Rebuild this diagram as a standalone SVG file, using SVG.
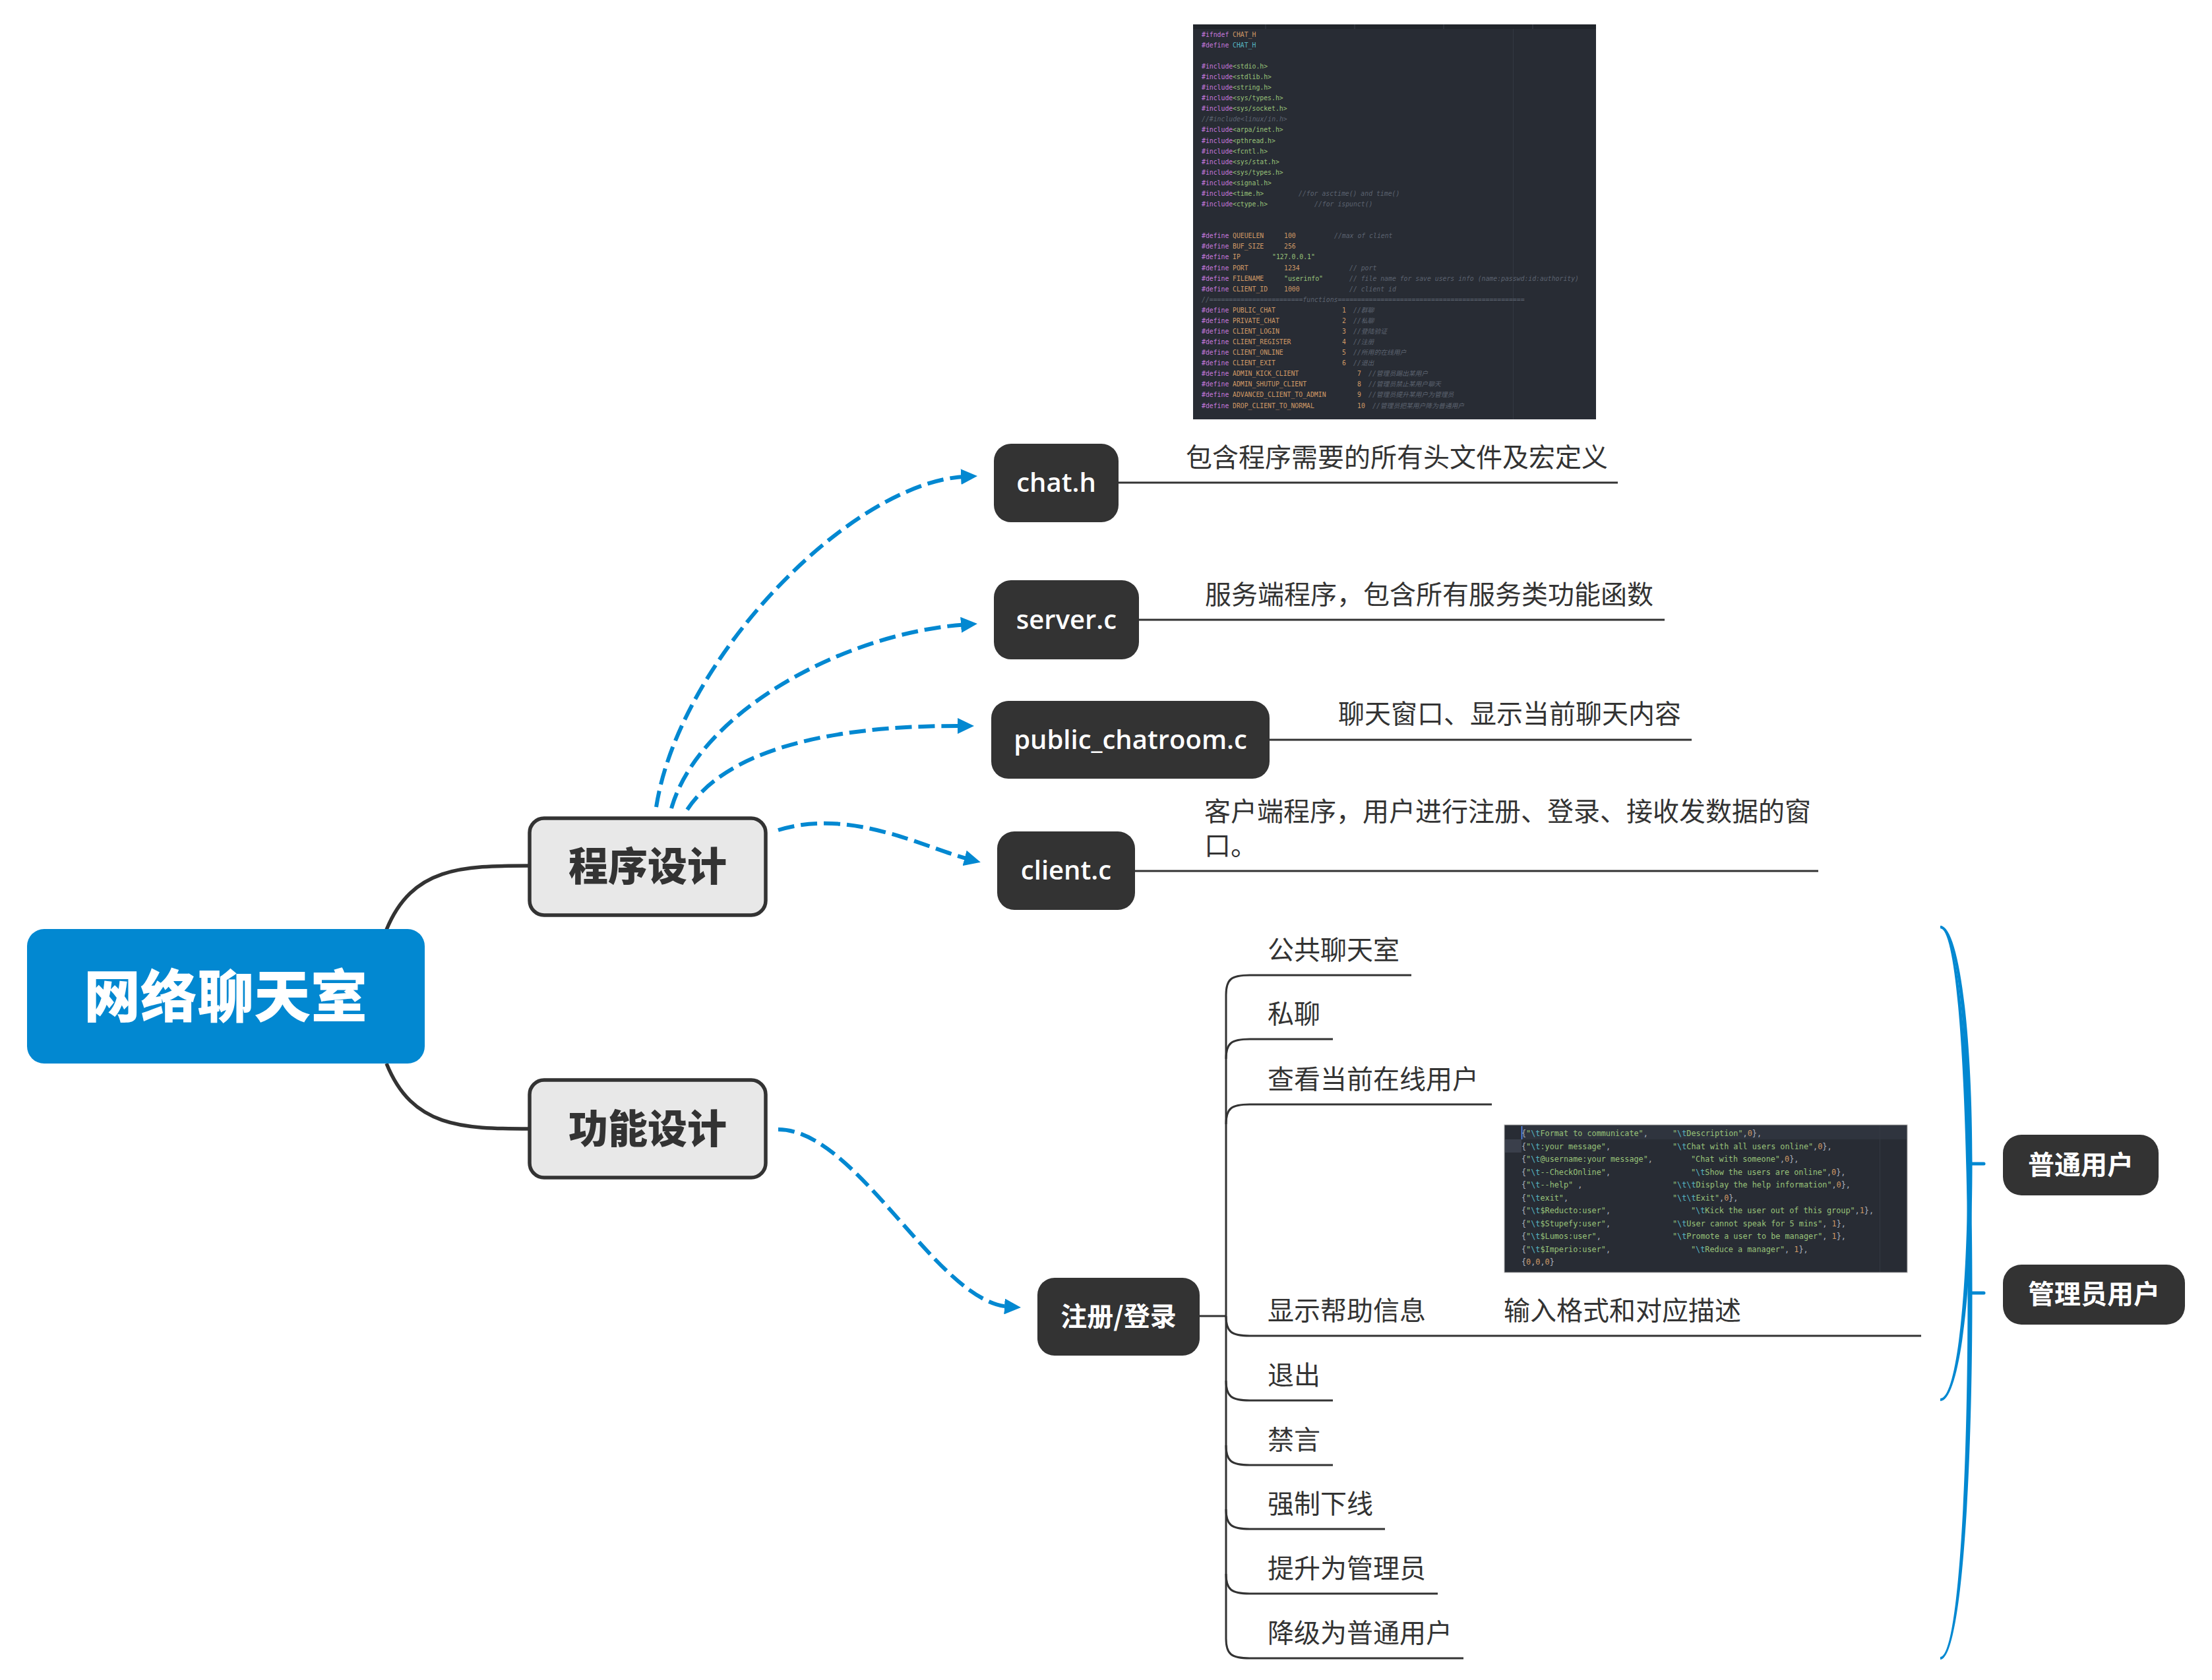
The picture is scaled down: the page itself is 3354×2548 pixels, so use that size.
<svg xmlns="http://www.w3.org/2000/svg" width="3354" height="2548" viewBox="0 0 3354 2548">
<defs>
<style>
.lbl{font-family:"Noto Sans CJK SC","Noto Sans",sans-serif;font-size:40px;fill:#333}
.ft{font-family:"Open Sans","Noto Sans CJK SC",sans-serif;font-size:40px;font-weight:600;fill:#fff;text-anchor:middle}
.bw{font-family:"Noto Sans CJK SC",sans-serif;font-size:40px;font-weight:700;fill:#fff;text-anchor:middle}
.bk{font-family:"Noto Sans CJK SC",sans-serif;font-size:60px;font-weight:900;fill:#333;text-anchor:middle}
.dash{fill:none;stroke:#0288d1;stroke-width:6;stroke-dasharray:25 10;marker-end:url(#arr)}
.ln{fill:none;stroke:#333;stroke-width:3}
.br{fill:none;stroke:#333;stroke-width:5.5}
.blue{fill:#0288d1}
.fn{fill:#333}
.c1{font-family:"DejaVu Sans Mono","Noto Sans CJK SC",monospace;font-size:9.8px}
.c2{font-family:"DejaVu Sans Mono","Noto Sans CJK SC",monospace;font-size:11.8px}
.P{fill:#c678dd}.O{fill:#d19a66}.C{fill:#56b6c2}.G{fill:#98c379}.M{fill:#5c6370;font-style:italic}.W{fill:#abb2bf}.N{fill:#d19a66}
</style>
<marker id="arr" markerUnits="userSpaceOnUse" markerWidth="26" markerHeight="24" refX="7" refY="12" orient="auto">
<path d="M0,0 L25,12 L0,24 Z" fill="#0288d1"/>
</marker>
</defs>
<rect width="3354" height="2548" fill="#fff"/>

<g id="connectors">
<path class="br" d="M586,1410 C625,1315 700,1313 803,1313"/>
<path class="br" d="M586,1613 C625,1710 700,1712 803,1712"/>
<path class="dash" d="M995,1224 C1030,1000 1290,731 1464,722.8"/>
<path class="dash" d="M1018,1226 C1060,1080 1280,960 1464,947.2"/>
<path class="dash" d="M1042,1228 C1100,1140 1250,1100 1459,1101"/>
<path class="dash" d="M1180,1259 C1290,1225 1400,1285 1469.4,1303.2"/>
<path class="dash" d="M1180,1713 C1300,1713 1420,1975 1530,1981.9"/>
<path class="ln" d="M1696,732 L2453,732"/>
<path class="ln" d="M1727,940 L2524,940"/>
<path class="ln" d="M1925,1122 L2565,1122"/>
<path class="ln" d="M1721,1321 L2757,1321"/>
<path class="ln" d="M1819,1996 L1859,1996"/>
<path class="ln" d="M1859,1509 L1859,2485"/>
<path class="ln" d="M1859,1509 C1859,1485 1867,1479 1895,1479 L2140,1479"/>
<path class="ln" d="M1859,1606 C1859,1582 1867,1576 1895,1576 L2021,1576"/>
<path class="ln" d="M1859,1705 C1859,1681 1867,1675 1895,1675 L2262,1675"/>
<path class="ln" d="M1859,1996 C1859,2020 1867,2026 1895,2026 L2913,2026"/>
<path class="ln" d="M1859,2094 C1859,2118 1867,2124 1895,2124 L2021,2124"/>
<path class="ln" d="M1859,2192 C1859,2216 1867,2222 1895,2222 L2021,2222"/>
<path class="ln" d="M1859,2289 C1859,2313 1867,2319 1895,2319 L2100,2319"/>
<path class="ln" d="M1859,2387 C1859,2411 1867,2417 1895,2417 L2180,2417"/>
<path class="ln" d="M1859,2485 C1859,2509 1867,2515 1895,2515 L2219,2515"/>
<path class="blue" d="M2942,1404 C2970,1404 2990.5,1560 2990.5,1765 C2990.5,1970 2970,2125 2942,2125 L2942,2121 C2966,2121 2983.5,1970 2983.5,1765 C2983.5,1560 2966,1408 2942,1408 Z"/>
<path class="blue" d="M2942,1404 C2972,1404 2990.5,1650 2990.5,1961 C2990.5,2270 2972,2517 2942,2517 L2942,2513 C2968,2513 2983.5,2270 2983.5,1961 C2983.5,1650 2968,1408 2942,1408 Z"/>
<path d="M2987,1765 L3008,1765 M2987,1961 L3008,1961" stroke="#0288d1" stroke-width="5" stroke-linecap="round"/>
</g>

<g id="root">
<rect x="41" y="1409" width="603" height="204" rx="26" fill="#0288d1"/>
<text x="342" y="1543" style="font-family:'Noto Sans CJK SC',sans-serif;font-size:86px;font-weight:900;fill:#fff;text-anchor:middle">网络聊天室</text>
</g>

<g id="node-program">
<rect x="803" y="1241" width="358" height="147" rx="22" fill="#e8e8e8" stroke="#333" stroke-width="5.5"/>
<text class="bk" x="982" y="1336">程序设计</text>
</g>

<g id="node-function">
<rect x="803" y="1638" width="358" height="148" rx="22" fill="#e8e8e8" stroke="#333" stroke-width="5.5"/>
<text class="bk" x="982" y="1734">功能设计</text>
</g>

<g id="node-chat-h">
<rect class="fn" x="1507" y="673" width="189" height="119" rx="26"/>
<text class="ft" x="1601.5" y="746">chat.h</text>
</g>
<g id="label-chat-h"><text class="lbl" x="1798" y="708">包含程序需要的所有头文件及宏定义</text></g>

<g id="node-server-c">
<rect class="fn" x="1507" y="880" width="220" height="120" rx="26"/>
<text class="ft" x="1617" y="954">server.c</text>
</g>
<g id="label-server-c"><text class="lbl" x="1827" y="916">服务端程序，包含所有服务类功能函数</text></g>

<g id="node-public">
<rect class="fn" x="1503" y="1063" width="422" height="118" rx="26"/>
<text class="ft" x="1714" y="1136">public_chatroom.c</text>
</g>
<g id="label-public"><text class="lbl" x="2029" y="1097">聊天窗口、显示当前聊天内容</text></g>

<g id="node-client-c">
<rect class="fn" x="1512" y="1261" width="209" height="119" rx="26"/>
<text class="ft" x="1616.5" y="1334">client.c</text>
</g>
<g id="label-client-c">
<text class="lbl" x="1826" y="1245">客户端程序，用户进行注册、登录、接收发数据的窗</text>
<text class="lbl" x="1826" y="1297">口。</text>
</g>

<g id="code-chat-h">
<rect x="1809" y="37" width="611" height="599" fill="#282c34"/>
<rect x="1809" y="37" width="611" height="7" fill="#21252b"/>
<path d="M1919,37 V44 M2054,37 V44 M2189,37 V44 M2324,37 V44" stroke="#3a3f4b" stroke-width="1"/>
<path d="M2294.5,44 V636" stroke="#333842" stroke-width="1"/>
<g class="c1">
<text y="55.7"><tspan class="P" x="1822">#ifndef</tspan><tspan class="O" x="1869">CHAT_H</tspan></text>
<text y="71.8"><tspan class="P" x="1822">#define</tspan><tspan class="C" x="1869">CHAT_H</tspan></text>
<text y="104"><tspan class="P" x="1822">#include</tspan><tspan class="G" x="1869">&lt;stdio.h&gt;</tspan></text>
<text y="120"><tspan class="P" x="1822">#include</tspan><tspan class="G" x="1869">&lt;stdlib.h&gt;</tspan></text>
<text y="136.1"><tspan class="P" x="1822">#include</tspan><tspan class="G" x="1869">&lt;string.h&gt;</tspan></text>
<text y="152.2"><tspan class="P" x="1822">#include</tspan><tspan class="G" x="1869">&lt;sys/types.h&gt;</tspan></text>
<text y="168.3"><tspan class="P" x="1822">#include</tspan><tspan class="G" x="1869">&lt;sys/socket.h&gt;</tspan></text>
<text y="184.3"><tspan class="M" x="1822">//#include&lt;linux/in.h&gt;</tspan></text>
<text y="200.4"><tspan class="P" x="1822">#include</tspan><tspan class="G" x="1869">&lt;arpa/inet.h&gt;</tspan></text>
<text y="216.5"><tspan class="P" x="1822">#include</tspan><tspan class="G" x="1869">&lt;pthread.h&gt;</tspan></text>
<text y="232.6"><tspan class="P" x="1822">#include</tspan><tspan class="G" x="1869">&lt;fcntl.h&gt;</tspan></text>
<text y="248.7"><tspan class="P" x="1822">#include</tspan><tspan class="G" x="1869">&lt;sys/stat.h&gt;</tspan></text>
<text y="264.7"><tspan class="P" x="1822">#include</tspan><tspan class="G" x="1869">&lt;sys/types.h&gt;</tspan></text>
<text y="280.8"><tspan class="P" x="1822">#include</tspan><tspan class="G" x="1869">&lt;signal.h&gt;</tspan></text>
<text y="296.9"><tspan class="P" x="1822">#include</tspan><tspan class="G" x="1869">&lt;time.h&gt;</tspan><tspan class="M" x="1969">//for asctime() and time()</tspan></text>
<text y="313"><tspan class="P" x="1822">#include</tspan><tspan class="G" x="1869">&lt;ctype.h&gt;</tspan><tspan class="M" x="1993">//for ispunct()</tspan></text>
<text y="361.2"><tspan class="P" x="1822">#define</tspan><tspan class="O" x="1869">QUEUELEN</tspan><tspan class="N" x="1947">100</tspan><tspan class="M" x="2023">//max of  client</tspan></text>
<text y="377.3"><tspan class="P" x="1822">#define</tspan><tspan class="O" x="1869">BUF_SIZE</tspan><tspan class="N" x="1947">256</tspan></text>
<text y="393.4"><tspan class="P" x="1822">#define</tspan><tspan class="O" x="1869">IP</tspan><tspan class="G" x="1929">"127.0.0.1"</tspan></text>
<text y="409.5"><tspan class="P" x="1822">#define</tspan><tspan class="O" x="1869">PORT</tspan><tspan class="N" x="1947">1234</tspan><tspan class="M" x="2046">// port</tspan></text>
<text y="425.5"><tspan class="P" x="1822">#define</tspan><tspan class="O" x="1869">FILENAME</tspan><tspan class="G" x="1947">"userinfo"</tspan><tspan class="M" x="2046">// file name for save users info (name:passwd:id:authority)</tspan></text>
<text y="441.6"><tspan class="P" x="1822">#define</tspan><tspan class="O" x="1869">CLIENT_ID</tspan><tspan class="N" x="1947">1000</tspan><tspan class="M" x="2046">// client id</tspan></text>
<text y="457.7"><tspan class="M" x="1822">//========================functions================================================</tspan></text>
<text y="473.8"><tspan class="P" x="1822">#define</tspan><tspan class="O" x="1869">PUBLIC_CHAT</tspan><tspan class="N" x="2035">1</tspan><tspan class="M" x="2052">//群聊</tspan></text>
<text y="489.9"><tspan class="P" x="1822">#define</tspan><tspan class="O" x="1869">PRIVATE_CHAT</tspan><tspan class="N" x="2035">2</tspan><tspan class="M" x="2052">//私聊</tspan></text>
<text y="505.9"><tspan class="P" x="1822">#define</tspan><tspan class="O" x="1869">CLIENT_LOGIN</tspan><tspan class="N" x="2035">3</tspan><tspan class="M" x="2052">//登陆验证</tspan></text>
<text y="522"><tspan class="P" x="1822">#define</tspan><tspan class="O" x="1869">CLIENT_REGISTER</tspan><tspan class="N" x="2035">4</tspan><tspan class="M" x="2052">//注册</tspan></text>
<text y="538.1"><tspan class="P" x="1822">#define</tspan><tspan class="O" x="1869">CLIENT_ONLINE</tspan><tspan class="N" x="2035">5</tspan><tspan class="M" x="2052">//所用的在线用户</tspan></text>
<text y="554.2"><tspan class="P" x="1822">#define</tspan><tspan class="O" x="1869">CLIENT_EXIT</tspan><tspan class="N" x="2035">6</tspan><tspan class="M" x="2052">//退出</tspan></text>
<text y="570.3"><tspan class="P" x="1822">#define</tspan><tspan class="O" x="1869">ADMIN_KICK_CLIENT</tspan><tspan class="N" x="2058">7</tspan><tspan class="M" x="2075">//管理员踢出某用户</tspan></text>
<text y="586.3"><tspan class="P" x="1822">#define</tspan><tspan class="O" x="1869">ADMIN_SHUTUP_CLIENT</tspan><tspan class="N" x="2058">8</tspan><tspan class="M" x="2075">//管理员禁止某用户聊天</tspan></text>
<text y="602.4"><tspan class="P" x="1822">#define</tspan><tspan class="O" x="1869">ADVANCED_CLIENT_TO_ADMIN</tspan><tspan class="N" x="2058">9</tspan><tspan class="M" x="2075">//管理员提升某用户为管理员</tspan></text>
<text y="618.5"><tspan class="P" x="1822">#define</tspan><tspan class="O" x="1869">DROP_CLIENT_TO_NORMAL</tspan><tspan class="N" x="2058">10</tspan><tspan class="M" x="2081">//管理员把某用户降为普通用户</tspan></text>
</g>
</g>

<g id="node-register">
<rect class="fn" x="1573" y="1938" width="246" height="118" rx="26"/>
<text class="bw" x="1696" y="2011">注册/登录</text>
</g>

<g id="item-public"><text class="lbl" x="1922" y="1455">公共聊天室</text></g>
<g id="item-private"><text class="lbl" x="1922" y="1552">私聊</text></g>
<g id="item-online"><text class="lbl" x="1922" y="1651">查看当前在线用户</text></g>
<g id="item-help">
<text class="lbl" x="1922" y="2002">显示帮助信息</text>
</g>
<g id="item-help-desc">
<rect x="2281" y="1706" width="611" height="224" fill="#282c34" stroke="#b8b8b8" stroke-width="1"/>
<rect x="2307" y="1707" width="584" height="21" fill="#2f343e"/>
<rect x="2282" y="1728" width="25" height="20" fill="#3a3f4b"/>
<path d="M2307.5,1708 V1728" stroke="#528bff" stroke-width="1.5"/>
<path d="M2850.5,1707 V1929" stroke="#333842" stroke-width="1"/>
<g class="c2">
<text x="2307" y="1723"><tspan class="W">{</tspan><tspan class="G">"</tspan><tspan class="C">\t</tspan><tspan class="G">Format to communicate"</tspan><tspan class="W">,</tspan></text>
<text x="2536" y="1723"><tspan class="G">"</tspan><tspan class="C">\t</tspan><tspan class="G">Description"</tspan><tspan class="W">,</tspan><tspan class="N">0</tspan><tspan class="W">},</tspan></text>
<text x="2307" y="1742.5"><tspan class="W">{</tspan><tspan class="G">"</tspan><tspan class="C">\t</tspan><tspan class="G">:your message"</tspan><tspan class="W">,</tspan></text>
<text x="2536" y="1742.5"><tspan class="G">"</tspan><tspan class="C">\t</tspan><tspan class="G">Chat with all users online"</tspan><tspan class="W">,</tspan><tspan class="N">0</tspan><tspan class="W">},</tspan></text>
<text x="2307" y="1762"><tspan class="W">{</tspan><tspan class="G">"</tspan><tspan class="C">\t</tspan><tspan class="G">@username:your message"</tspan><tspan class="W">,</tspan></text>
<text x="2564" y="1762"><tspan class="G">"Chat with someone"</tspan><tspan class="W">,</tspan><tspan class="N">0</tspan><tspan class="W">},</tspan></text>
<text x="2307" y="1781.5"><tspan class="W">{</tspan><tspan class="G">"</tspan><tspan class="C">\t</tspan><tspan class="G">--CheckOnline"</tspan><tspan class="W">,</tspan></text>
<text x="2564" y="1781.5"><tspan class="G">"</tspan><tspan class="C">\t</tspan><tspan class="G">Show the users are online"</tspan><tspan class="W">,</tspan><tspan class="N">0</tspan><tspan class="W">},</tspan></text>
<text x="2307" y="1801"><tspan class="W">{</tspan><tspan class="G">"</tspan><tspan class="C">\t</tspan><tspan class="G">--help"</tspan><tspan class="W"> ,</tspan></text>
<text x="2536" y="1801"><tspan class="G">"</tspan><tspan class="C">\t\t</tspan><tspan class="G">Display the help information"</tspan><tspan class="W">,</tspan><tspan class="N">0</tspan><tspan class="W">},</tspan></text>
<text x="2307" y="1820.5"><tspan class="W">{</tspan><tspan class="G">"</tspan><tspan class="C">\t</tspan><tspan class="G">exit"</tspan><tspan class="W">,</tspan></text>
<text x="2536" y="1820.5"><tspan class="G">"</tspan><tspan class="C">\t\t</tspan><tspan class="G">Exit"</tspan><tspan class="W">,</tspan><tspan class="N">0</tspan><tspan class="W">},</tspan></text>
<text x="2307" y="1840"><tspan class="W">{</tspan><tspan class="G">"</tspan><tspan class="C">\t</tspan><tspan class="G">$Reducto:user"</tspan><tspan class="W">,</tspan></text>
<text x="2564" y="1840"><tspan class="G">"</tspan><tspan class="C">\t</tspan><tspan class="G">Kick the user out of this group"</tspan><tspan class="W">,</tspan><tspan class="N">1</tspan><tspan class="W">},</tspan></text>
<text x="2307" y="1859.5"><tspan class="W">{</tspan><tspan class="G">"</tspan><tspan class="C">\t</tspan><tspan class="G">$Stupefy:user"</tspan><tspan class="W">,</tspan></text>
<text x="2536" y="1859.5"><tspan class="G">"</tspan><tspan class="C">\t</tspan><tspan class="G">User cannot speak for 5 mins"</tspan><tspan class="W">, </tspan><tspan class="N">1</tspan><tspan class="W">},</tspan></text>
<text x="2307" y="1879"><tspan class="W">{</tspan><tspan class="G">"</tspan><tspan class="C">\t</tspan><tspan class="G">$Lumos:user"</tspan><tspan class="W">,</tspan></text>
<text x="2536" y="1879"><tspan class="G">"</tspan><tspan class="C">\t</tspan><tspan class="G">Promote a user to be manager"</tspan><tspan class="W">, </tspan><tspan class="N">1</tspan><tspan class="W">},</tspan></text>
<text x="2307" y="1898.5"><tspan class="W">{</tspan><tspan class="G">"</tspan><tspan class="C">\t</tspan><tspan class="G">$Imperio:user"</tspan><tspan class="W">,</tspan></text>
<text x="2564" y="1898.5"><tspan class="G">"</tspan><tspan class="C">\t</tspan><tspan class="G">Reduce a manager"</tspan><tspan class="W">, </tspan><tspan class="N">1</tspan><tspan class="W">},</tspan></text>
<text x="2307" y="1918"><tspan class="W">{</tspan><tspan class="N">0</tspan><tspan class="W">,</tspan><tspan class="N">0</tspan><tspan class="W">,</tspan><tspan class="N">0</tspan><tspan class="W">}</tspan></text>
</g>
<text class="lbl" x="2280" y="2002">输入格式和对应描述</text>
</g>
<g id="item-exit"><text class="lbl" x="1922" y="2100">退出</text></g>
<g id="item-mute"><text class="lbl" x="1922" y="2198">禁言</text></g>
<g id="item-kick"><text class="lbl" x="1922" y="2295">强制下线</text></g>
<g id="item-promote"><text class="lbl" x="1922" y="2393">提升为管理员</text></g>
<g id="item-demote"><text class="lbl" x="1922" y="2491">降级为普通用户</text></g>

<g id="node-normal-user">
<rect class="fn" x="3037" y="1721" width="236" height="92" rx="28"/>
<text class="bw" x="3155" y="1781">普通用户</text>
</g>
<g id="node-admin-user">
<rect class="fn" x="3037" y="1918" width="276" height="91" rx="28"/>
<text class="bw" x="3175" y="1977">管理员用户</text>
</g>
</svg>
